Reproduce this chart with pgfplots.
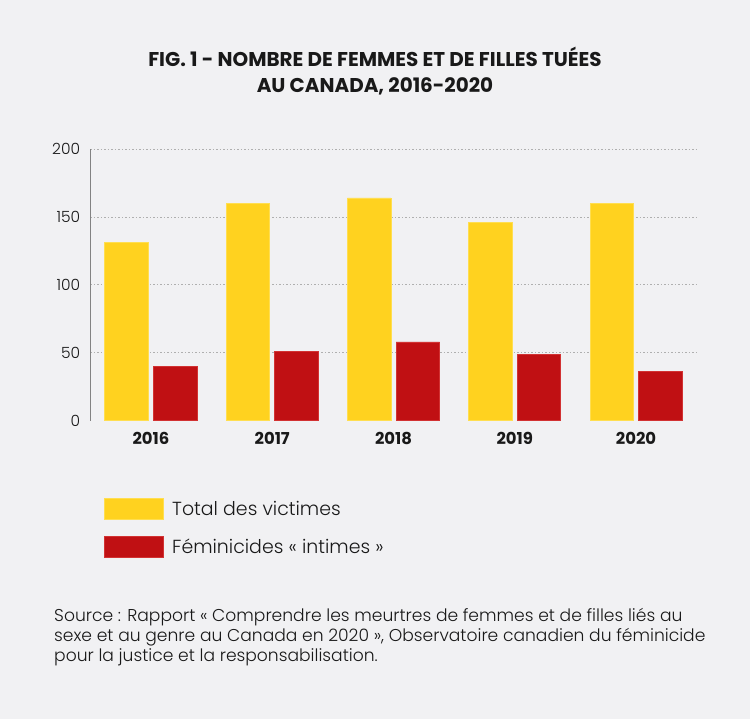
\documentclass[border=0pt]{standalone}
\usepackage{pgfplots}
\pgfplotsset{compat=1.18}
\usepackage{fontspec}
\setmainfont{Poppins}
\newfontfamily\lightfont{Poppins Light}
\definecolor{bgc}{RGB}{241,241,243}
\definecolor{ylw}{RGB}{255,210,31}
\definecolor{ylwb}{RGB}{255,222,80}
\definecolor{rd}{RGB}{192,16,19}
\definecolor{rdb}{RGB}{210,50,50}
\definecolor{axgray}{RGB}{130,130,130}
\definecolor{gridgray}{RGB}{175,175,175}
\definecolor{txt}{RGB}{25,25,25}
\begin{document}
\begin{tikzpicture}
\useasboundingbox (0,0) rectangle (750bp,719bp);
\fill[bgc] (0,0) rectangle (750bp,719bp);
\node[font=\bfseries\fontsize{20}{22}\selectfont, anchor=base, inner sep=0pt, text=txt] at (375bp,652bp) {FIG. 1 - NOMBRE DE FEMMES ET DE FILLES TUÉES};
\node[font=\bfseries\fontsize{20}{22}\selectfont, anchor=base, inner sep=0pt, text=txt] at (375bp,626bp) {AU CANADA, 2016-2020};
\begin{axis}[
  at={(90.3bp,298.3bp)}, anchor=south west,
  width=606.4bp, height=271.7bp, scale only axis,
  xmin=-0.5, xmax=4.5, ymin=0, ymax=200,
  xtick={0,1,2,3,4}, xticklabels={2016,2017,2018,2019,2020},
  ytick={50,100,150,200}, extra y ticks={0}, extra y tick style={grid=none},
  ymajorgrids,
  major grid style={draw=gridgray, line width=0.8bp, dash pattern=on 1.3bp off 2.2bp},
  axis lines*=left, axis line style={-},
  x axis line style={draw=none},
  y axis line style={draw=axgray, line width=0.8bp},
  tick style={draw=none},
  xticklabel style={font=\bfseries\fontsize{16.5}{16.5}\selectfont, text=txt, anchor=north, inner sep=0pt, yshift=-11bp},
  yticklabel style={font=\lightfont\fontsize{15.5}{15.5}\selectfont, text=txt, anchor=east, inner sep=0pt, xshift=-10bp},
  /pgf/number format/assume math mode=true,
  legend style={at={(axis description cs:0.0226,-0.2856)}, anchor=north west, draw=none, fill=none, inner sep=0pt, outer sep=0pt, row sep=16bp, column sep=8.4bp,
    nodes={inner sep=0pt, text height=17bp, text depth=4bp, font=\lightfont\fontsize{19}{21}\selectfont, text=txt}},
  legend cell align=left,
  legend image code/.code={\draw[#1] (0bp,-10.5bp) rectangle (59bp,10.5bp);},
]
\addplot[ybar, bar width=43.5bp, bar shift=-24.3bp, fill=ylw, draw=ylwb, line width=0.8bp] coordinates {(0,131) (1,160) (2,164) (3,146) (4,160)};
\addlegendentry{Total des victimes}
\addplot[ybar, bar width=43.5bp, bar shift=24.3bp, fill=rd, draw=rdb, line width=0.8bp] coordinates {(0,40) (1,51) (2,58) (3,49) (4,36)};
\addlegendentry{Féminicides « intimes »}
\end{axis}
\node[font=\lightfont\fontsize{17.2}{20}\selectfont, anchor=base west, inner sep=0pt, text=txt] at (54bp,97bp) {Source : Rapport « Comprendre les meurtres de femmes et de filles liés au};
\node[font=\lightfont\fontsize{17.2}{20}\selectfont, anchor=base west, inner sep=0pt, text=txt] at (54bp,77bp) {sexe et au genre au Canada en 2020 », Observatoire canadien du féminicide};
\node[font=\lightfont\fontsize{17.2}{20}\selectfont, anchor=base west, inner sep=0pt, text=txt] at (54bp,57bp) {pour la justice et la responsabilisation.};
\end{tikzpicture}
\end{document}
